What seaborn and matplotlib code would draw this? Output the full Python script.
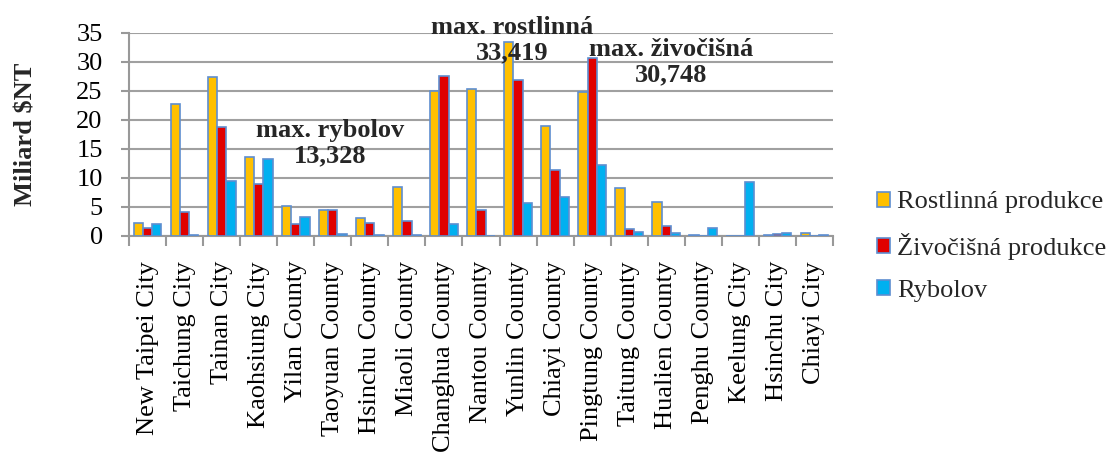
import pandas as pd
import numpy as np
import seaborn as sns
import matplotlib.pyplot as plt
from matplotlib.ticker import MultipleLocator, FixedLocator

# data (miliard $NT)
mesta = ["New Taipei City", "Taichung City", "Tainan City", "Kaohsiung City",
         "Yilan County", "Taoyuan County", "Hsinchu County", "Miaoli County",
         "Changhua County", "Nantou County", "Yunlin County", "Chiayi County",
         "Pingtung County", "Taitung County", "Hualien County", "Penghu County",
         "Keelung City", "Hsinchu City", "Chiayi City"]
rostlinna = [2.3, 22.8, 27.4, 13.7, 5.2, 4.4, 3.05, 8.4, 25.0, 25.3, 33.419,
             19.0, 24.8, 8.2, 5.8, 0.1, 0.0, 0.15, 0.55]
zivocisna = [1.4, 4.1, 18.8, 9.0, 2.1, 4.4, 2.3, 2.6, 27.6, 4.4, 26.9,
             11.3, 30.748, 1.2, 1.7, 0.05, 0.05, 0.3, 0.05]
rybolov = [2.0, 0.1, 9.4, 13.328, 3.3, 0.3, 0.2, 0.1, 2.0, 0.0, 5.7,
           6.7, 12.3, 0.75, 0.55, 1.45, 9.3, 0.6, 0.1]
serie = ["Rostlinná produkce", "Živočišná produkce", "Rybolov"]
barvy = ["#FFC000", "#E00000", "#00B0F0"]

df = pd.DataFrame({"mesto": mesta * 3,
                   "hodnota": rostlinna + zivocisna + rybolov,
                   "serie": np.repeat(serie, len(mesta))})

sns.set_theme(style="white")
plt.rcParams["font.family"] = ["Liberation Serif", "DejaVu Serif"]
plt.rcParams["font.size"] = 19

fig = plt.figure(figsize=(11.18, 4.57), dpi=100)
ax = fig.add_axes([0.1154, 0.4836, 0.6297, 0.4442])

sns.barplot(data=df, x="mesto", y="hodnota", hue="serie", palette=barvy,
            saturation=1, width=0.75, edgecolor="#5E8ED0", linewidth=1.2,
            ax=ax, zorder=3)

ax.set_ylim(0, 35)
ax.set_xlim(-0.5, len(mesta) - 0.5)
ax.yaxis.set_major_locator(MultipleLocator(5))
ax.grid(axis="y", color="#A0A0A0", linewidth=1.5, zorder=0)
ax.set_axisbelow(True)

for s in ["top", "right"]:
    ax.spines[s].set_visible(False)
for s in ["left", "bottom"]:
    ax.spines[s].set_color("#999999")
    ax.spines[s].set_linewidth(1.5)

ax.set_xlabel("")
ax.set_ylabel("Miliard $NT", fontweight="bold", fontsize=19, labelpad=28)
ax.tick_params(axis="y", left=True, length=6, width=1.5, color="#999999",
               labelsize=19, pad=13, labelcolor="black")
ax.tick_params(axis="x", which="major", length=0, labelsize=19, pad=18,
               labelrotation=90, labelcolor="black")
ax.xaxis.set_minor_locator(FixedLocator(np.arange(-0.5, len(mesta), 1.0)))
ax.tick_params(axis="x", which="minor", bottom=True, length=7, width=1.5,
               color="#999999")

# popisky maxim
ax.text(4.93, 16.0, "max. rybolov\n13,328", ha="center", va="center",
        fontweight="bold", fontsize=19, linespacing=1.15, zorder=5)
ax.text(9.84, 33.8, "max. rostlinná\n33,419", ha="center", va="center",
        fontweight="bold", fontsize=19, linespacing=1.15, clip_on=False, zorder=5)
ax.text(14.13, 30.0, "max. živočišná\n30,748", ha="center", va="center",
        fontweight="bold", fontsize=19, linespacing=1.15, clip_on=False, zorder=5)

h, l = ax.get_legend_handles_labels()
ax.legend(h, l, loc="center left", bbox_to_anchor=(0.775, 0.46),
          bbox_transform=fig.transFigure, frameon=False,
          prop={"family": ["Liberation Serif", "DejaVu Serif"], "size": 19},
          handlelength=0.5, handleheight=0.5, handletextpad=0.25,
          labelspacing=0.75, borderaxespad=0)

fig.savefig("out.png", dpi=100)
